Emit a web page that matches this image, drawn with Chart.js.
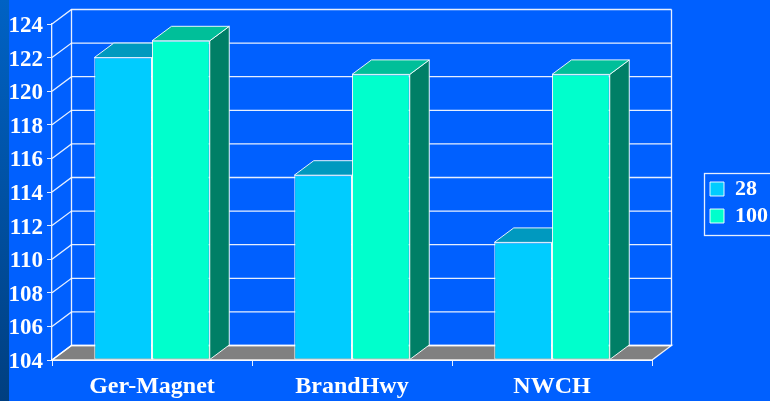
<!DOCTYPE html>
<html>
<head>
<meta charset="utf-8">
<title>Chart</title>
<script src="https://cdn.jsdelivr.net/npm/chart.js@4"></script>
<style>
    html, body { margin: 0; padding: 0; width: 770px; height: 401px; overflow: hidden; background: #0060ff; }
    #band { position: absolute; left: 0; top: 0; width: 9px; height: 401px; background: linear-gradient(#0062c4, #003f80); }
    canvas { position: absolute; left: 0; top: 0; }
</style>
</head>
<body>
<div id="band"></div>
<canvas id="chart" width="770" height="401"></canvas>
<script>
// Values
const categories = ["Ger-Magnet", "BrandHwy", "NWCH"];
const series28 = [122, 115, 111];
const series100 = [123, 121, 121];
const seriesLabels = ["28", "100"];
const yMin = 104;
const yMax = 124;
const yStep = 2;

// Fake 3D depth, in pixels
const DEPTH_X = 19.5;
const DEPTH_Y = 14.5;
const LINE = "rgba(255, 255, 255, 0.9)";
const TEXT_FONT = "'Liberation Serif', 'Times New Roman', serif";

const frontColors = ["#00ccff", "#00ffcc"];
const topColors = ["#0099bf", "#00bf99"];
const sideColors = ["#007f9f", "#007f66"];

function polygon(ctx, points, fill) {
    ctx.beginPath();
    points.forEach((p, i) => (i ? ctx.lineTo(p[0], p[1]) : ctx.moveTo(p[0], p[1])));
    ctx.closePath();
    if (fill) {
        ctx.fillStyle = fill;
        ctx.fill();
    }
    ctx.stroke();
}

// Floor, side wall and back wall, then the top and side of each bar
const wallsAndDepth = {
    id: "wallsAndDepth",
    beforeDatasetsDraw(chart) {
        const ctx = chart.ctx;
        const { left, right, top, bottom } = chart.chartArea;
        ctx.save();
        ctx.strokeStyle = LINE;
        ctx.lineWidth = 1.3;

        polygon(ctx, [[left, bottom], [left + DEPTH_X, bottom - DEPTH_Y], [right + DEPTH_X, bottom - DEPTH_Y], [right, bottom]], "#808080");

        chart.scales.y.ticks.forEach(tick => {
            const y = chart.scales.y.getPixelForValue(tick.value);
            ctx.beginPath();
            ctx.moveTo(left, y);
            ctx.lineTo(left + DEPTH_X, y - DEPTH_Y);
            ctx.lineTo(right + DEPTH_X, y - DEPTH_Y);
            ctx.stroke();
        });

        ctx.beginPath();
        ctx.moveTo(left + DEPTH_X, top - DEPTH_Y);
        ctx.lineTo(left + DEPTH_X, bottom - DEPTH_Y);
        ctx.moveTo(right + DEPTH_X, top - DEPTH_Y);
        ctx.lineTo(right + DEPTH_X, bottom - DEPTH_Y);
        ctx.stroke();

        ctx.lineWidth = 1;
        chart.data.datasets.forEach((dataset, i) => {
            chart.getDatasetMeta(i).data.forEach(bar => {
                const x0 = bar.x - bar.width / 2;
                const x1 = bar.x + bar.width / 2;
                polygon(ctx, [[x1, bar.y], [x1 + DEPTH_X, bar.y - DEPTH_Y], [x1 + DEPTH_X, bar.base - DEPTH_Y], [x1, bar.base]], sideColors[i]);
                polygon(ctx, [[x0, bar.y], [x0 + DEPTH_X, bar.y - DEPTH_Y], [x1 + DEPTH_X, bar.y - DEPTH_Y], [x1, bar.y]], topColors[i]);
            });
        });
        ctx.restore();
    }
};

// Chart.js has no frame around the legend, and its spot is fixed here
const legendFrame = {
    id: "legendFrame",
    afterLayout(chart) {
        const legend = chart.legend;
        const w = legend.width;
        const h = legend.height;
        legend.left = 705;
        legend.top = 173;
        legend.right = legend.left + w;
        legend.bottom = legend.top + h;
    },
    afterDraw(chart) {
        const ctx = chart.ctx;
        ctx.save();
        ctx.strokeStyle = LINE;
        ctx.lineWidth = 1.3;
        ctx.strokeRect(704.5, 173.5, 70, 62);
        ctx.restore();
    }
};

new Chart(document.getElementById("chart"), {
    type: "bar",
    data: {
        labels: categories,
        datasets: [series28, series100].map((values, i) => ({
            label: seriesLabels[i],
            data: values,
            base: yMin,
            backgroundColor: frontColors[i],
            borderColor: LINE,
            borderWidth: 1,
            borderSkipped: false
        }))
    },
    options: {
        responsive: false,
        animation: false,
        layout: { padding: { top: 24, right: 118, bottom: 0, left: 0 } },
        datasets: { bar: { categoryPercentage: 0.5775, barPercentage: 1 } },
        plugins: {
            tooltip: { enabled: false },
            legend: {
                position: "chartArea",
                align: "start",
                labels: {
                    color: "#ffffff",
                    boxWidth: 14,
                    boxHeight: 14,
                    padding: 5,
                    font: { family: TEXT_FONT, size: 22, weight: "bold" }
                }
            }
        },
        scales: {
            x: {
                afterFit: scale => { scale.height = 41; },
                grid: { offset: true, drawOnChartArea: false, tickLength: 6, tickColor: LINE },
                border: { color: LINE, width: 2 },
                ticks: { color: "#ffffff", padding: 6, maxRotation: 0, font: { family: TEXT_FONT, size: 24, weight: "bold" } }
            },
            y: {
                min: yMin,
                max: yMax,
                afterFit: scale => { scale.width = 52; },
                grid: { drawOnChartArea: false, tickLength: 5, tickColor: LINE },
                border: { color: LINE, width: 1.3 },
                ticks: { stepSize: yStep, color: "#ffffff", padding: 4, labelOffset: 2, font: { family: TEXT_FONT, size: 23, weight: "bold" } }
            }
        }
    },
    plugins: [wallsAndDepth, legendFrame]
});
</script>
</body>
</html>
